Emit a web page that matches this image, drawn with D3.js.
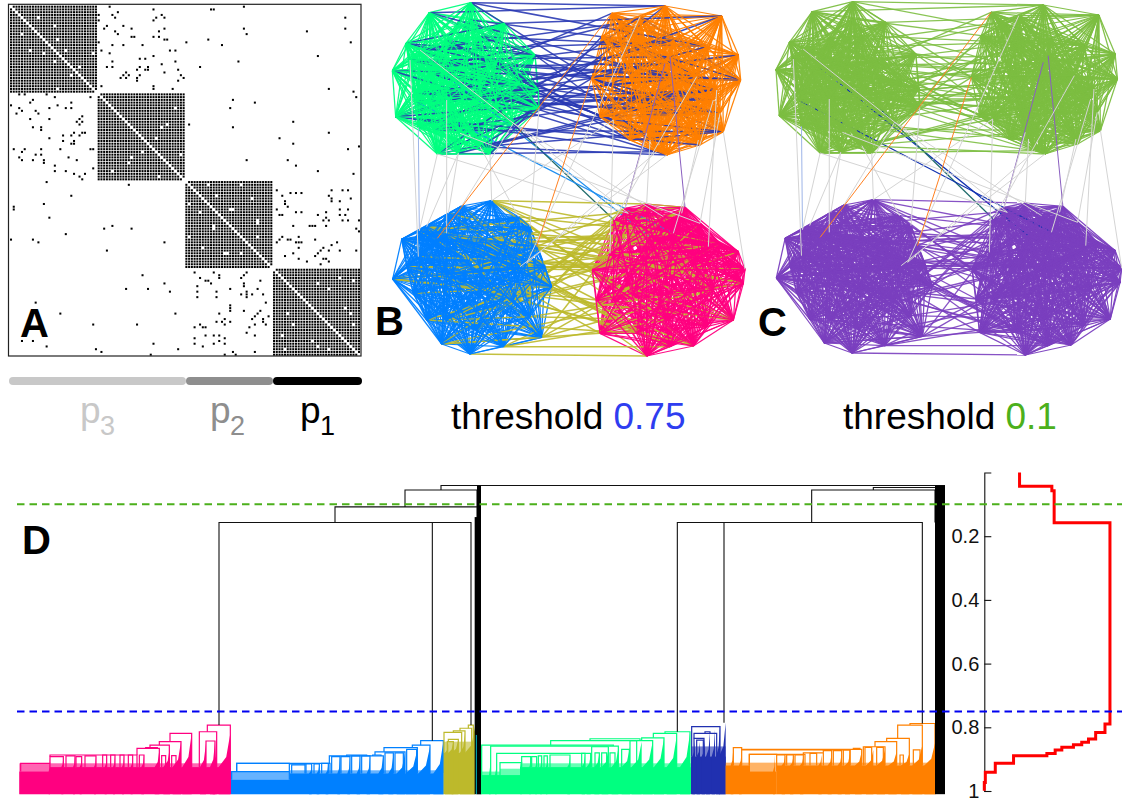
<!DOCTYPE html>
<html>
<head>
<meta charset="utf-8">
<script src="https://cdn.jsdelivr.net/npm/d3@7"></script>
<style>
html, body { margin: 0; padding: 0; background: #fff; }
svg { display: block; }
text { font-family: "Liberation Sans", Arial, sans-serif; }
</style>
</head>
<body>
<svg id="fig"></svg>
<script>
'use strict';

var w = 1122;
var h = 803;

// adjacency matrix, 128 nodes in 4 blocks of 32. links between blocks
var crossLinks = [[0,36],[1,52],[1,73],[1,74],[0,85],[2,39],[3,37],[3,55],[4,53],[4,56],[5,52],[4,38],[4,122],[3,32],[5,32],[7,35],[8,34],[7,41],[8,44],[8,122],[9,54],[8,56],[8,85],[9,38],[10,39],[9,108],[10,86],[11,44],[11,45],[11,52],[11,54],[12,56],[12,57],[12,72],[13,64],[13,32],[13,124],[14,37],[14,41],[14,48],[14,77],[16,60],[16,58],[16,33],[17,36],[18,52],[18,112],[19,47],[19,49],[20,60],[20,37],[20,83],[21,55],[22,37],[22,35],[22,69],[22,47],[22,50],[23,49],[23,46],[23,50],[24,56],[23,61],[24,42],[25,41],[26,40],[25,43],[26,42],[25,47],[26,46],[27,46],[25,62],[26,63],[27,61],[29,33],[29,52],[30,52],[30,59],[30,116],[31,125],[33,126],[34,81],[35,89],[37,80],[43,65],[42,103],[44,81],[46,116],[48,98],[50,103],[52,123],[51,127],[56,86],[56,101],[58,104],[60,112],[61,125],
  [67,97],[69,99],[68,102],[68,104],[68,106],[67,117],[69,116],[67,121],[67,123],[70,117],[71,117],[70,124],[71,100],[72,100],[71,120],[74,97],[76,98],[76,99],[73,101],[75,104],[75,106],[74,120],[74,123],[76,112],[75,115],[77,115],[78,114],[78,116],[76,120],[76,122],[78,121],[78,123],[78,127],[80,103],[80,109],[80,110],[80,111],[80,115],[81,126],[82,127],[84,105],[84,99],[85,98],[85,101],[85,102],[86,97],[85,111],[86,104],[86,105],[86,106],[86,119],[87,117],[88,105],[88,114],[89,113],[89,116],[90,112],[89,120],[89,126],[91,100],[90,103],[92,105],[91,111],[92,114],[92,115],[93,108],[93,116],[94,113]];

// missing links inside the blocks
var holes = [[4,10],[4,10],[10,4],[16,7],[17,12],[7,16],[12,17],[16,20],[20,16],[30,17],[25,22],[17,30],
  [37,60],[44,55],[43,57],[48,53],[54,62],[60,37],[62,54],
  [65,72],[65,84],[69,75],[70,88],[72,65],[74,80],[78,90],[81,74],[84,65],[84,90],[88,70],[90,79],[90,84],
  [99,120],[101,112],[103,116],[100,125],[110,122],[112,124],[112,101],[116,103],[120,99],[122,110],[125,116]];

// node layout in panel B, one value per node
var layoutX = [115,235,272,272,120,148,78,37,172,171,330,47,477,400,90,475,465,372,355,200,200,300,300,150,250,350,110,300,420,160,110,240,
  855,1030,780,860,1025,635,720,665,1075,1082,855,695,830,960,1000,660,870,750,800,955,1010,760,880,980,700,750,810,860,950,1020,780,900,
  245,172,65,38,185,415,200,370,450,205,140,485,515,115,300,100,470,440,200,200,300,118,335,400,140,420,290,450,80,370,270,495,
  1075,1060,915,940,860,690,660,735,800,637,1000,760,809,980,700,1090,702,800,770,860,880,950,800,1020,870,650,745,985,850,960,1095,905];
var layoutY = [382,460,60,8,150,38,130,212,462,205,462,350,325,370,180,270,165,70,330,120,300,110,440,220,200,190,280,300,250,390,305,400,
  18,395,50,465,48,235,70,110,165,240,190,40,455,435,300,350,170,420,400,420,270,130,120,140,360,230,420,240,230,340,330,340,
  618,715,718,837,1032,650,960,1040,680,640,680,1012,860,770,720,880,740,790,820,700,870,692,602,900,960,800,990,950,800,730,1062,800,
  755,960,622,1038,960,760,1000,625,612,810,870,880,710,980,900,850,660,1068,1000,800,700,770,750,730,1040,900,640,740,650,670,808,640];

// links inside a cluster that belong to the neighbouring community
var greenExtra = [[6,16],[5,16],[6,25],[11,28],[4,28],[14,15],[26,15],[29,28],[0,15],[8,12],[19,16],[23,12],[20,28],[11,25],[2,16],[21,16],[6,17],[26,28],[23,15]];
var orangeExtra = [[37,55],[47,40],[39,41],[57,60],[53,60],[34,41],[38,55],[62,61],[56,33],[37,61],[49,33],[47,63],[39,60],[53,46],[37,63],[47,61]];
var blueExtra = [[67,80],[73,76],[64,76],[84,91],[64,95],[72,91],[66,87],[74,89],[83,75],[85,93],[68,75],[70,91],[79,76]];
var pinkExtra = [[110,125],[105,98],[101,117],[102,123],[121,96],[107,119],[103,115],[112,106],[105,100],[116,106],[108,97],[104,98],[118,106],[114,120],[101,111]];

var panelBBlockColor = ['#00ff80', '#ff8000', '#0080ff', '#ff0080'];
var panelBPairColor = ['#2a3ab4', '#bdb92b'];
var panelCPairColor = ['#7cbe41', '#7a3fbf'];
var grayLink = '#d4d4d4';
var specialB = {'0-85':'#9db4e8','43-65':'#ff8020','37-80':'#ff8020','9-108':'#1f8ff0','30-116':'#1f8ff0','18-112':'#1f6b6b','42-103':'#8a5fc0','48-98':'#8a5fc0'};
var specialC = {'0-85':'#9db4e8','43-65':'#ff8020','37-80':'#ff8020','9-108':'#1030b0','30-116':'#1030b0','18-112':'#1f6b6b','42-103':'#8a5fc0','48-98':'#8a5fc0'};

// dendrogram: [left leaf, right leaf, height] / spikes [leaf, top, width] / base [from, to, top] / haze [from, to, top]
var pinkArches = [[622,691,.793],[598,650,.814],[510,575,.819],[618,645,.843],[478,543,.845],[450,508,.856],[411,478,.866],[437,472,.864],[150,411,.887],[150,190,.892],[198,225,.890],[228,245,.892],[255,288,.890],[308,320,.887],[332,345,.887],[360,372,.887],[385,398,.887],[418,432,.887],[485,497,.889],[515,528,.889],[62,150,.913]];
var pinkSpikes = [[691,.819,35],[650,.819,12],[645,.845,15],[618,.85,18],[575,.819,28],[543,.845,25],[510,.861,20],[478,.871,14],[432,.887,8],[398,.889,6],[372,.889,6],[345,.889,6],[320,.889,6],[288,.892,6],[245,.894,6],[225,.892,6],[190,.894,6],[150,.894,4]];
var pinkBase = [[58,150,.939],[150,693,.925]];
var pinkHaze = [[58,150,.913],[150,693,.913]];

var blueArches = [[1262,1330,.842],[1237,1290,.856],[1152,1252,.864],[1125,1215,.877],[988,1150,.890],[1040,1100,.887],[710,990,.913],[868,915,.915],[710,868,.913],[695,868,.939],[995,1020,.892],[1023,1050,.892],[1055,1080,.890],[1085,1110,.890],[1118,1143,.887],[1155,1180,.880],[1185,1210,.880],[1220,1250,.869],[875,915,.918],[918,935,.915],[942,958,.915],[965,985,.913]];
var blueSpikes = [[1330,.845,30],[1290,.861,35],[1252,.871,35],[1215,.882,25],[1180,.887,15],[1150,.887,15],[1110,.892,10],[1080,.894,10],[1050,.894,8],[1020,.894,8],[985,.913,8],[958,.915,8],[935,.918,8]];
var blueBase = [[693,870,.965],[870,1331,.945]];
var blueHaze = [[693,870,.939],[870,1331,.935]];

var oliveArches = [[1405,1420,.793],[1380,1415,.803],[1360,1395,.811],[1332,1385,.816],[1345,1375,.838],[1342,1360,.845]];
var oliveSpikes = [[1425,.798,30],[1395,.819,15],[1375,.838,20],[1360,.845,15],[1345,.85,10]];
var oliveBase = [[1331,1425,.88]];
var oliveHaze = [[1331,1425,.845]];

// these three are counted from leaf 1410
var greenArches = [[585,660,.814],[550,620,.819],[515,582,.833],[480,548,.842],[242,500,.842],[360,510,.836],[35,430,.856],[62,445,.859],[365,415,.861],[80,362,.882],[90,155,.911],[155,182,.892],[185,200,.892],[205,215,.890],[222,232,.890],[240,300,.887],[335,345,.882],[375,388,.880],[395,410,.880],[420,435,.880],[455,478,.869]];
var greenSpikes = [[660,.819,30],[620,.829,30],[582,.835,30],[548,.845,30],[515,.845,30],[480,.861,25],[445,.866,20],[415,.871,20],[388,.882,15],[362,.887,12],[345,.887,10],[300,.892,8],[62,.861,5],[35,.861,3],[80,.887,5],[155,.892,4],[182,.894,4],[200,.894,4],[215,.892,4],[232,.892,4]];
var greenBase = [[33,150,.95],[150,663,.925]];
var greenHaze = [[33,90,.939],[90,150,.93],[150,663,.913]];

var navyArches = [[665,750,.798],[672,740,.819],[672,702,.835],[705,720,.814],[680,700,.840]];
var navySpikes = [[767,.786,20],[750,.793,12],[735,.808,10],[720,.814,12],[705,.838,10],[690,.845,10],[675,.84,8]];
var navyBase = [[663,767,.892]];
var navyHaze = [[663,767,.86]];

var orangeArches = [[1320,1395,.788],[1283,1357,.793],[1250,1318,.835],[1215,1280,.845],[1180,1245,.861],[815,1175,.869],[790,815,.864],[838,1005,.885],[815,1060,.871],[1060,1140,.871],[1000,1060,.880],[920,945,.887],[838,920,.885],[950,970,.887],[975,1000,.887],[1020,1040,.882],[1060,1085,.873],[1090,1115,.873],[1120,1140,.871],[1150,1170,.866],[1185,1205,.863],[1220,1240,.863],[1290,1300,.887],[1330,1350,.871]];
var orangeSpikes = [[1395,.85,32],[1357,.856,30],[1318,.882,25],[1280,.877,25],[1245,.871,25],[1210,.871,22],[1175,.877,20],[1140,.882,15],[1115,.882,12],[1085,.882,12],[1055,.887,10],[1000,.892,10],[970,.892,10],[945,.892,10],[915,.887,6],[790,.864,8],[815,.87,8]];
var orangeBase = [[767,840,.92],[840,920,.939],[920,1397,.92]];
var orangeHaze = [[767,840,.911],[840,920,.911],[920,1397,.911]];

// upper merges: left leaf, right leaf, height, left end, right end
var topMerges = [[1323,2835,.041,.055,.041],[1215,1431,.055,.108,.108],[1005,1431,.108,.157,.157],[657,1413,.157,.793,.793],[1297,1297,.157,.842,.842],
  [2620,2808,.047,.055,.055],[2435,2805,.055,.157,.157],[2032,2767,.157,.814,.788],[2172,2172,.157,.786,.786]];
// the two heavy stems: from leaf, to leaf, top
var stems = [[1431,1443,.041],[1424,1443,.14],[2805,2835,.041]];

// red curve right of the dendrogram
var redHeight = [0,.043,.057,.158,.79,.816,.837,.847,.855,.863,.871,.882,.889,.913,.941,.973,.999];
var redValue = [.276,.529,.547,.984,.945,.872,.816,.763,.698,.607,.555,.49,.229,.086,.008,0,0];

var heightTicks = [.2,.4,.6,.8,1];
var thresholds = [.1,.75];
var thresholdColor = ['#4cb01c','#0000f0'];

var svg = d3.select('#fig').attr('width', w).attr('height', h);

var key = function (a, b) { return a + '-' + b; };
var blockOf = function (n) { return Math.floor(n / 32); };
var nodes = d3.range(128);

var holeSet = new Set();
holes.forEach(function (p) { holeSet.add(key(Math.min(p[0], p[1]), Math.max(p[0], p[1]))); });

var blockLinks = [];
nodes.forEach(function (i) {
    nodes.forEach(function (j) {
        if (i < j && blockOf(i) === blockOf(j) && !holeSet.has(key(i, j))) blockLinks.push([i, j]);
    });
});

// ---- panel A
var mx = d3.scaleBand().domain(nodes).range([10, 360]).paddingInner(0.26);
var my = d3.scaleBand().domain(nodes).range([5.7, 355.7]).paddingInner(0.26);

var cells = [];
blockLinks.concat(crossLinks).forEach(function (p) {
    cells.push(p);
    cells.push([p[1], p[0]]);
});

svg.append('g').selectAll('rect').data(cells).enter().append('rect')
    .attr('x', function (d) { return mx(d[1]); })
    .attr('y', function (d) { return my(d[0]); })
    .attr('width', mx.bandwidth())
    .attr('height', my.bandwidth())
    .attr('fill', '#000');

svg.append('rect').attr('x', 8.5).attr('y', 4.3).attr('width', 352.5).attr('height', 351.7)
    .attr('fill', 'none').attr('stroke', '#222').attr('stroke-width', 1.2);

// bars under the matrix
var bars = [[10, 185, '#c8c8c8'], [187, 272, '#8e8e8e'], [274, 361, '#000']];
svg.append('g').selectAll('line').data(bars).enter().append('line')
    .attr('x1', function (d) { return d[0] + 3; })
    .attr('x2', function (d) { return d[1] - 3; })
    .attr('y1', 381).attr('y2', 381)
    .attr('stroke', function (d) { return d[2]; })
    .attr('stroke-width', 8)
    .attr('stroke-linecap', 'round');

var pLabels = [[80, 100, '3', '#c8c8c8'], [210, 230, '2', '#8e8e8e'], [300, 320, '1', '#000']];
pLabels.forEach(function (d) {
    svg.append('text').attr('x', d[0]).attr('y', 423).attr('font-size', 37).attr('fill', d[3]).text('p');
    svg.append('text').attr('x', d[1]).attr('y', 435).attr('font-size', 27).attr('fill', d[3]).text(d[2]);
});

// ---- panels B and C
function drawNetwork(x, y, blockColor, pairColor, extras, special, pairWidth) {
    var g = svg.append('g').attr('fill', 'none');

    function draw(list, color, width, opacity) {
        g.append('g').selectAll('line').data(list).enter().append('line')
            .attr('x1', function (d) { return x(layoutX[d[0]]); })
            .attr('y1', function (d) { return y(layoutY[d[0]]); })
            .attr('x2', function (d) { return x(layoutX[d[1]]); })
            .attr('y2', function (d) { return y(layoutY[d[1]]); })
            .attr('stroke', color)
            .attr('stroke-width', width)
            .attr('stroke-opacity', opacity);
    }

    var pairLinks = crossLinks.filter(function (d) {
        return Math.floor(blockOf(d[0]) / 2) === Math.floor(blockOf(d[1]) / 2);
    });
    var farLinks = crossLinks.filter(function (d) {
        return Math.floor(blockOf(d[0]) / 2) !== Math.floor(blockOf(d[1]) / 2);
    });
    var colorOf = function (d) { return special[key(d[0], d[1])] || grayLink; };
    var under = farLinks.filter(function (d) { return d[0] === 9 || d[0] === 30 || d[0] === 18; });
    var over = farLinks.filter(function (d) { return under.indexOf(d) < 0; });
    var clusterColor = function (d) { return blockColor[blockOf(d[0])]; };

    // most of each clique goes under the community lines, the rest over, so they show in pieces
    draw(blockLinks.filter(function (d) { return (d[0] + d[1]) % 3 !== 0; }), clusterColor, 1.25, 0.95);
    draw(under, colorOf, 1.2, 1);
    draw(pairLinks, function (d) { return pairColor[Math.floor(blockOf(d[0]) / 2)]; }, pairWidth, 0.9);
    extras.forEach(function (e) { draw(e[0], e[1], 1.2, 0.95); });
    draw(blockLinks.filter(function (d) { return (d[0] + d[1]) % 3 === 0; }), clusterColor, 1.25, 0.95);
    draw(over, colorOf, 1, 1);
}

var xB = d3.scaleLinear().domain([0, 1110]).range([380, 750]);
var yB = d3.scaleLinear().domain([0, 1110]).range([0, 370]);
drawNetwork(xB, yB, panelBBlockColor, panelBPairColor,
    [[greenExtra, panelBPairColor[0]], [orangeExtra, panelBPairColor[0]], [blueExtra, panelBPairColor[1]], [pinkExtra, panelBPairColor[1]]],
    specialB, 1.5);

var xC = d3.scaleLinear().domain([37, 1095]).range([776, 1121.7]);
var yC = d3.scaleLinear().domain([0, 1110]).range([-1, 369]);
drawNetwork(xC, yC,
    [panelCPairColor[0], panelCPairColor[0], panelCPairColor[1], panelCPairColor[1]],
    panelCPairColor, [], specialC, 1.3);

// captions
function caption(x, label, value, color) {
    var t = svg.append('text').attr('x', x).attr('y', 429).attr('font-size', 37).attr('fill', '#000');
    t.append('tspan').text(label + ' ');
    t.append('tspan').attr('fill', color).text(value);
}
caption(451, 'threshold', '0.75', '#2e3df0');
caption(843, 'threshold', '0.1', '#4cb01c');

// panel letters
var letters = [['A', 20, 337], ['B', 375, 335], ['C', 758, 336], ['D', 22, 554]];
svg.append('g').selectAll('text').data(letters).enter().append('text')
    .attr('x', function (d) { return d[1]; })
    .attr('y', function (d) { return d[2]; })
    .attr('font-size', 40)
    .attr('font-weight', 'bold')
    .attr('fill', '#000')
    .text(function (d) { return d[0]; });

// ---- panel D
var leaf = d3.scaleLinear().domain([0, 3366]).range([0, 1122]);
var height = d3.scaleLinear().domain([0, 1]).range([472.5, 791]);
var bottom = 1.01;
var line = d3.line();

function drawCluster(color, arches, spikes, base, haze, offset) {
    var g = svg.append('g');
    var baseAt = function (r) {
        var b = base.filter(function (s) { return r > s[0] && r <= s[1]; })[0];
        return b ? b[2] : base[0][2];
    };
    var rects = function (list, opacity) {
        g.append('g').selectAll('rect').data(list).enter().append('rect')
            .attr('x', function (d) { return leaf(d[0] + offset); })
            .attr('width', function (d) { return leaf(d[1]) - leaf(d[0]); })
            .attr('y', function (d) { return height(d[2]); })
            .attr('height', function (d) { return height(bottom) - height(d[2]); })
            .attr('fill', color)
            .attr('fill-opacity', opacity);
    };
    rects(haze, 0.6);
    rects(base, 1);
    g.append('g').selectAll('path').data(spikes).enter().append('path')
        .attr('d', function (d) {
            var foot = d[0] - d[2];
            var footV = baseAt(foot);
            return line([
                [leaf(foot + offset), height(bottom)],
                [leaf(foot + offset), height(footV)],
                [leaf(d[0] - d[2] * 0.35 + offset), height(footV - (footV - d[1]) * 0.3)],
                [leaf(d[0] + offset), height(d[1])],
                [leaf(d[0] + offset), height(bottom)]
            ]) + 'Z';
        })
        .attr('fill', color);
    // a leg runs down to the next arch under it, or into the solid part
    var legEnd = function (r, v) {
        var under = arches.filter(function (a) { return a[2] > v && a[0] <= r && a[1] >= r; })
            .map(function (a) { return a[2]; });
        return under.length ? d3.min(under) : baseAt(r);
    };
    g.append('g').selectAll('path').data(arches).enter().append('path')
        .attr('d', function (d) {
            return line([
                [leaf(d[0] + offset), height(legEnd(d[0], d[2]))],
                [leaf(d[0] + offset), height(d[2])],
                [leaf(d[1] + offset), height(d[2])],
                [leaf(d[1] + offset), height(legEnd(d[1], d[2]))]
            ]);
        })
        .attr('fill', 'none')
        .attr('stroke', color)
        .attr('stroke-width', 1.2);
}

drawCluster('#ff0080', pinkArches, pinkSpikes, pinkBase, pinkHaze, 0);
drawCluster('#0080ff', blueArches, blueSpikes, blueBase, blueHaze, 0);
drawCluster('#bdb92b', oliveArches, oliveSpikes, oliveBase, oliveHaze, 0);
drawCluster('#00ff80', greenArches, greenSpikes, greenBase, greenHaze, 1410);
drawCluster('#2030b0', navyArches, navySpikes, navyBase, navyHaze, 1410);
drawCluster('#ff8000', orangeArches, orangeSpikes, orangeBase, orangeHaze, 1410);

svg.append('g').selectAll('path').data(topMerges).enter().append('path')
    .attr('d', function (d) {
        return line([
            [leaf(d[0]), height(d[3])],
            [leaf(d[0]), height(d[2])],
            [leaf(d[1]), height(d[2])],
            [leaf(d[1]), height(d[4])]
        ]);
    })
    .attr('fill', 'none')
    .attr('stroke', '#111')
    .attr('stroke-width', 1.1);

svg.append('g').selectAll('rect').data(stems).enter().append('rect')
    .attr('x', function (d) { return leaf(d[0]); })
    .attr('width', function (d) { return leaf(d[1]) - leaf(d[0]); })
    .attr('y', function (d) { return height(d[2]); })
    .attr('height', function (d) { return height(bottom) - height(d[2]); })
    .attr('fill', '#000');

// thin teal leg beside the left stem
svg.append('line')
    .attr('x1', leaf(1429)).attr('x2', leaf(1429))
    .attr('y1', height(.824)).attr('y2', height(bottom))
    .attr('stroke', '#00b8c8').attr('stroke-width', 1);

// axis
var axis = d3.axisLeft(height)
    .tickValues(heightTicks)
    .tickSize(-7)
    .tickPadding(5)
    .tickFormat(function (d) { return d === 1 ? '1' : d3.format('.1f')(d); });
var axisG = svg.append('g').attr('transform', 'translate(984.3,0)').call(axis);
axisG.selectAll('text').attr('font-size', 20).attr('fill', '#111').attr('font-family', '"Liberation Sans", Arial, sans-serif');
axisG.selectAll('line, path').attr('stroke', '#111').attr('stroke-width', 1.1);

// red curve
var redX = d3.scaleLinear().domain([0, 1]).range([984.3, 1112]);
svg.append('path')
    .datum(d3.zip(redValue, redHeight))
    .attr('d', d3.line()
        .x(function (d) { return redX(d[0]); })
        .y(function (d) { return height(d[1]); })
        .curve(d3.curveStepBefore))
    .attr('fill', 'none')
    .attr('stroke', '#ff0000')
    .attr('stroke-width', 3);

// threshold lines
svg.append('g').selectAll('line').data(thresholds).enter().append('line')
    .attr('x1', 17).attr('x2', w)
    .attr('y1', function (d) { return height(d); })
    .attr('y2', function (d) { return height(d); })
    .attr('stroke', function (d, i) { return thresholdColor[i]; })
    .attr('stroke-width', 2)
    .attr('stroke-dasharray', '7.5,5');
</script>
</body>
</html>
